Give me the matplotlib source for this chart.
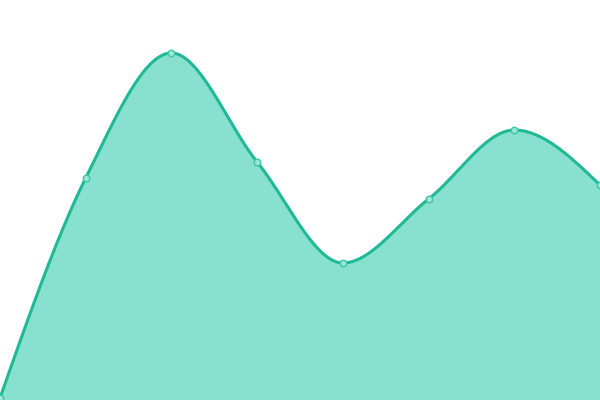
import numpy as np
import matplotlib
matplotlib.use("Agg")
import matplotlib.pyplot as plt

categories = [0, 1, 2, 3, 4, 5, 6, 7]
values = [2, 222, 347, 238, 137, 201, 270, 215]

def monotone_x(x, y, n=60):
    x = np.asarray(x, float); y = np.asarray(y, float)
    m = len(x)
    h = np.diff(x); s = np.diff(y) / h
    t = np.zeros(m)
    for i in range(1, m - 1):
        s0, s1, h0, h1 = s[i-1], s[i], h[i-1], h[i]
        p = (s0 * h1 + s1 * h0) / (h0 + h1)
        t[i] = (np.sign(s0) + np.sign(s1)) * min(abs(s0), abs(s1), 0.5 * abs(p))
    t[0] = (3 * s[0] - t[1]) / 2
    t[-1] = (3 * s[-1] - t[-2]) / 2
    xs, ys = [], []
    for i in range(m - 1):
        u = np.linspace(0, 1, n)
        hh = h[i]
        h00 = 2*u**3 - 3*u**2 + 1
        h10 = u**3 - 2*u**2 + u
        h01 = -2*u**3 + 3*u**2
        h11 = u**3 - u**2
        xs.append(x[i] + u * hh)
        ys.append(h00*y[i] + h10*hh*t[i] + h01*y[i+1] + h11*hh*t[i+1])
    return np.concatenate(xs), np.concatenate(ys)

fig = plt.figure(figsize=(6, 4), dpi=100)
ax = fig.add_axes([0, 0, 1, 1])
xs, ys = monotone_x(categories, values)
ax.fill_between(xs, 0, ys, color="#88e0cf", linewidth=0)
ax.plot(xs, ys, color="#1fb996", linewidth=2.2, solid_capstyle="round")
ax.scatter(categories, values, s=22, color="#9be6d6", edgecolors="#3cc7a5", linewidths=1, zorder=5, clip_on=False)
ax.set_xlim(0, 7)
ax.set_ylim(0, 400)
ax.axis("off")
fig.savefig("out.png", dpi=100)
